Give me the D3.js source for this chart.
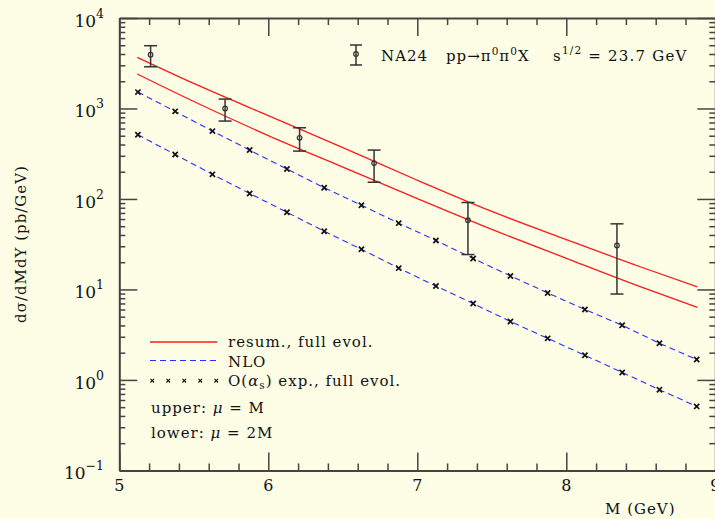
<!DOCTYPE html>
<html>
<head>
<meta charset="utf-8">
<script src="https://cdn.jsdelivr.net/npm/d3@7"></script>
<style>
  body { margin: 0; background: #fefee6; }
  svg { display: block; }
  text { font-family: "DejaVu Serif", serif; fill: #111; }
</style>
</head>
<body>
<svg id="chart" width="715" height="519"></svg>
<script>
// NA24 data, pp -> pi0 pi0 X, sqrt(s) = 23.7 GeV
const na24Mass = [5.21, 5.71, 6.21, 6.71, 7.34, 8.34];
const na24Val  = [3930, 1000, 474, 249, 58.3, 30.6];
const na24Hi   = [4940, 1270, 612, 347, 91.4, 53.1];
const na24Lo   = [2890, 726, 338, 153, 24.3, 8.9];

// resummed, full evolution (upper: mu = M, lower: mu = 2M)
const resumMass  = [5.12, 5.5, 6.0, 6.5, 7.0, 7.5, 8.0, 8.5, 8.88];
const resumUpper = [3675, 1890, 832, 370, 161, 72.8, 35.6, 17.7, 10.7];
const resumLower = [2403, 1194, 502, 225, 101, 46.1, 22.1, 10.7, 6.35];

// NLO and O(alpha_s) expansion points
const nloMass  = [5.125, 5.375, 5.625, 5.875, 6.125, 6.375, 6.625, 6.875,
                  7.125, 7.375, 7.625, 7.875, 8.125, 8.375, 8.625, 8.875];
const nloUpper = [1518, 929, 562, 347, 214, 133, 85.3, 54.0, 34.7, 22.0, 14.1, 9.15, 6.0, 4.02, 2.54, 1.68];
const nloLower = [512, 310, 187, 115, 71.4, 44.0, 27.8, 17.2, 10.9, 6.98, 4.42, 2.88, 1.87, 1.21, 0.78, 0.51];

const xMajor = [5, 6, 7, 8, 9];
const yDecades = [-1, 0, 1, 2, 3, 4];

const svg = d3.select('#chart');
const plotLeft = 119.3, plotRight = 715.3, plotTop = 18, plotBottom = 470.4;

const x = d3.scaleLinear().domain([5, 9]).range([plotLeft, plotRight]);
const y = d3.scaleLog().domain([0.1, 1e4]).range([plotBottom, plotTop]);

// tick lists
const xMinor = d3.range(5, 9.001, 0.2).filter(v => Math.abs(v - Math.round(v)) > 0.01);
const yMajor = yDecades.map(p => Math.pow(10, p));
const yMinor = [];
yDecades.slice(0, -1).forEach(p => {
    for (let d = 2; d <= 9; d++) yMinor.push(d * Math.pow(10, p));
});

const axisColor = '#444';

function drawAxis(axis, transform, values, size) {
    const g = svg.append('g')
        .attr('transform', transform)
        .call(axis.tickValues(values).tickSize(size).tickSizeOuter(0).tickFormat(''));
    g.select('.domain').attr('stroke', axisColor).attr('stroke-width', 2);
    g.selectAll('.tick line').attr('stroke', axisColor).attr('stroke-width', 1.5);
    return g;
}

// ticks point inward on all four sides
drawAxis(d3.axisTop(x), `translate(0,${plotBottom})`, xMajor, 18);
drawAxis(d3.axisTop(x), `translate(0,${plotBottom})`, xMinor, 7).select('.domain').remove();
drawAxis(d3.axisBottom(x), `translate(0,${plotTop})`, xMajor, 18);
drawAxis(d3.axisBottom(x), `translate(0,${plotTop})`, xMinor, 7).select('.domain').remove();
drawAxis(d3.axisRight(y), `translate(${plotLeft},0)`, yMajor, 18);
drawAxis(d3.axisRight(y), `translate(${plotLeft},0)`, yMinor, 6).select('.domain').remove();
drawAxis(d3.axisLeft(y), `translate(${plotRight},0)`, yMajor, 18);
drawAxis(d3.axisLeft(y), `translate(${plotRight},0)`, yMinor, 6).select('.domain').remove();

// tick labels
svg.append('g').selectAll('text')
    .data(xMajor)
    .enter()
    .append('text')
    .attr('x', d => x(d))
    .attr('y', plotBottom + 21)
    .attr('text-anchor', 'middle')
    .style('font-size', '16px')
    .text(d => d);

const yLab = svg.append('g').selectAll('text')
    .data(yDecades)
    .enter()
    .append('text')
    .attr('x', 104)
    .attr('y', d => y(Math.pow(10, d)) + 9)
    .attr('text-anchor', 'end')
    .style('font-size', '17px');
yLab.append('tspan').text('10');
yLab.append('tspan')
    .attr('dy', -9)
    .style('font-size', '12.5px')
    .text(d => d < 0 ? '\u2212' + (-d) : d);

// axis titles
svg.append('text')
    .attr('x', 605)
    .attr('y', 514)
    .style('font-size', '15px')
    .style('letter-spacing', '1px')
    .text('M (GeV)');

svg.append('text')
    .attr('transform', 'translate(26,244) rotate(-90)')
    .attr('text-anchor', 'middle')
    .style('font-size', '15px')
    .style('letter-spacing', '1px')
    .text('d\u03c3/dMdY (pb/GeV)');

// curves
const line = d3.line().x(d => x(d[0])).y(d => y(d[1]));
const smooth = d3.line().x(d => x(d[0])).y(d => y(d[1])).curve(d3.curveMonotoneX);

[resumUpper, resumLower].forEach(vals => {
    svg.append('path')
        .datum(resumMass.map((m, i) => [m, vals[i]]))
        .attr('d', smooth)
        .attr('fill', 'none')
        .attr('stroke', '#ff1a1a')
        .attr('stroke-width', 1.3);
});

[nloUpper, nloLower].forEach(vals => {
    const pts = nloMass.map((m, i) => [m, vals[i]]);
    svg.append('path')
        .datum(pts)
        .attr('d', line)
        .attr('fill', 'none')
        .attr('stroke', '#2233ff')
        .attr('stroke-width', 1.1)
        .attr('stroke-dasharray', '6,4');
    svg.append('g').selectAll('path')
        .data(pts)
        .enter()
        .append('path')
        .attr('transform', d => `translate(${x(d[0])},${y(d[1])})`)
        .attr('d', 'M-2.6,-2.6L2.6,2.6M-2.6,2.6L2.6,-2.6')
        .attr('stroke', '#111')
        .attr('stroke-width', 1.7);
});

// NA24 error bars
const na24 = na24Mass.map((m, i) => ({ m, v: na24Val[i], hi: na24Hi[i], lo: na24Lo[i] }));
const bars = svg.append('g').selectAll('g')
    .data(na24)
    .enter()
    .append('g')
    .attr('stroke', '#333')
    .attr('stroke-width', 1.5)
    .attr('fill', 'none');
bars.append('line')
    .attr('x1', d => x(d.m)).attr('x2', d => x(d.m))
    .attr('y1', d => y(d.hi)).attr('y2', d => y(d.lo));
bars.append('line')
    .attr('x1', d => x(d.m) - 6.5).attr('x2', d => x(d.m) + 6.5)
    .attr('y1', d => y(d.hi)).attr('y2', d => y(d.hi));
bars.append('line')
    .attr('x1', d => x(d.m) - 6.5).attr('x2', d => x(d.m) + 6.5)
    .attr('y1', d => y(d.lo)).attr('y2', d => y(d.lo));
bars.append('circle')
    .attr('cx', d => x(d.m))
    .attr('cy', d => y(d.v))
    .attr('r', 2.3)
    .attr('stroke-width', 1.2);

// header: NA24 symbol and process
const hdr = svg.append('g').attr('stroke', '#333').attr('stroke-width', 1.5).attr('fill', 'none');
hdr.append('line').attr('x1', 356).attr('x2', 356).attr('y1', 45).attr('y2', 65);
hdr.append('line').attr('x1', 350).attr('x2', 362).attr('y1', 45).attr('y2', 45);
hdr.append('line').attr('x1', 350).attr('x2', 362).attr('y1', 65).attr('y2', 65);
hdr.append('circle').attr('cx', 356).attr('cy', 54).attr('r', 2.3).attr('stroke-width', 1.2);

svg.append('text')
    .attr('x', 381).attr('y', 61)
    .style('font-size', '15px')
    .style('letter-spacing', '1px')
    .text('NA24');

const proc = svg.append('text')
    .attr('x', 446).attr('y', 61)
    .style('font-size', '15px')
    .style('letter-spacing', '1px');
proc.append('tspan').text('pp\u2192\u03c0');
proc.append('tspan').attr('dy', -6).style('font-size', '10.5px').text('0');
proc.append('tspan').attr('dy', 6).text('\u03c0');
proc.append('tspan').attr('dy', -6).style('font-size', '10.5px').text('0');
proc.append('tspan').attr('dy', 6).text('X');

const energy = svg.append('text')
    .attr('x', 553).attr('y', 61)
    .style('font-size', '15px')
    .style('letter-spacing', '1.2px');
energy.append('tspan').text('s');
energy.append('tspan').attr('dy', -7).style('font-size', '10.5px').text('1/2');
energy.append('tspan').attr('dy', 7).text(' = 23.7 GeV');

// legend
const lg = svg.append('g');
lg.append('line').attr('x1', 150).attr('x2', 217).attr('y1', 342).attr('y2', 342)
    .attr('stroke', '#ff1a1a').attr('stroke-width', 1.3);
lg.append('line').attr('x1', 150).attr('x2', 217).attr('y1', 360.5).attr('y2', 360.5)
    .attr('stroke', '#2233ff').attr('stroke-width', 1.1).attr('stroke-dasharray', '6,4');
lg.selectAll('path.cross')
    .data([152.3, 168.3, 184.3, 200.3, 216.3])
    .enter()
    .append('path')
    .attr('class', 'cross')
    .attr('transform', d => `translate(${d},380.7)`)
    .attr('d', 'M-1.8,-1.8L1.8,1.8M-1.8,1.8L1.8,-1.8')
    .attr('stroke', '#111')
    .attr('stroke-width', 1.1);

const legendText = (yy) => lg.append('text')
    .attr('x', 228).attr('y', yy)
    .style('font-size', '15px')
    .style('letter-spacing', '1px');

legendText(347).text('resum., full evol.');
legendText(366.5).text('NLO');
const ot = legendText(386);
ot.append('tspan').text('O(');
ot.append('tspan').style('font-style', 'italic').text('\u03b1');
ot.append('tspan').attr('dy', 3).style('font-size', '10.5px').text('s');
ot.append('tspan').attr('dy', -3).text(') exp., full evol.');

const up = lg.append('text').attr('x', 151).attr('y', 413)
    .style('font-size', '15px').style('letter-spacing', '1px');
up.append('tspan').text('upper: ');
up.append('tspan').style('font-style', 'italic').text('\u03bc');
up.append('tspan').text(' = M');

const lo = lg.append('text').attr('x', 151).attr('y', 438)
    .style('font-size', '15px').style('letter-spacing', '1px');
lo.append('tspan').text('lower: ');
lo.append('tspan').style('font-style', 'italic').text('\u03bc');
lo.append('tspan').text(' = 2M');
</script>
</body>
</html>
